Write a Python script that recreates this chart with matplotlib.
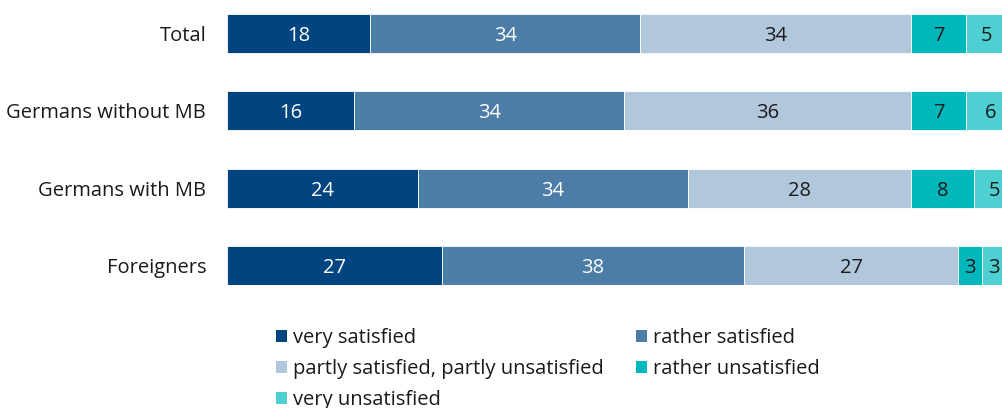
import matplotlib.pyplot as plt
from matplotlib.patches import Patch

plt.rcParams['font.family'] = ['Open Sans', 'DejaVu Sans']

groups = ['Total', 'Germans without MB', 'Germans with MB', 'Foreigners']
answers = ['very satisfied', 'rather satisfied',
           'partly satisfied, partly unsatisfied', 'rather unsatisfied',
           'very unsatisfied']
very_sat = [18, 16, 24, 27]
rather_sat = [34, 34, 34, 38]
partly = [34, 36, 28, 27]
rather_unsat = [7, 7, 8, 3]
very_unsat = [5, 6, 5, 3]

series = [very_sat, rather_sat, partly, rather_unsat, very_unsat]
colors = ['#00457f', '#4c7da6', '#b0c7dc', '#00b8bc', '#4ecfd1']
txt_colors = ['white', 'white', '#1a1a1a', '#1a1a1a', '#1a1a1a']
FS = 14.5

W, H = 1003, 408
fig = plt.figure(figsize=(W / 100, H / 100), dpi=100)
# axes runs a bit past the right edge, like the cropped original
ax = fig.add_axes([227 / W, 1 - 285 / H, 795 / W, 271 / H])

ypos = list(range(len(groups)))
left = [0] * len(groups)
for vals, c, tc in zip(series, colors, txt_colors):
    bars = ax.barh(ypos, vals, left=left, color=c, height=0.5,
                   edgecolor='white', linewidth=0.6)
    for b, v in zip(bars, vals):
        ax.text(b.get_x() + b.get_width() / 2, b.get_y() + b.get_height() / 2,
                str(v), ha='center', va='center_baseline', color=tc, fontsize=FS)
    left = [l + v for l, v in zip(left, vals)]

ax.set_xlim(0, 100)
ax.set_ylim(len(groups) - 0.75, -0.25)
ax.set_yticks(ypos)
ax.set_yticklabels(groups, fontsize=FS, color='#1a1a1a')
ax.tick_params(axis='y', length=0, pad=15)
ax.set_xticks([])
for s in ax.spines.values():
    s.set_visible(False)

handles = [Patch(facecolor=c, label=a) for c, a in zip(colors, answers)]
order = [0, 2, 4, 1, 3]
fig.legend([handles[i] for i in order], [answers[i] for i in order],
           loc='upper left', bbox_to_anchor=(276 / W, 1 - 328 / H), ncol=2,
           frameon=False, fontsize=FS, handlelength=0.55, handleheight=0.55,
           handletextpad=0.3, columnspacing=1.6, labelspacing=0.55,
           borderpad=0, borderaxespad=0, labelcolor='#1a1a1a')

fig.savefig('out.png', dpi=100)
